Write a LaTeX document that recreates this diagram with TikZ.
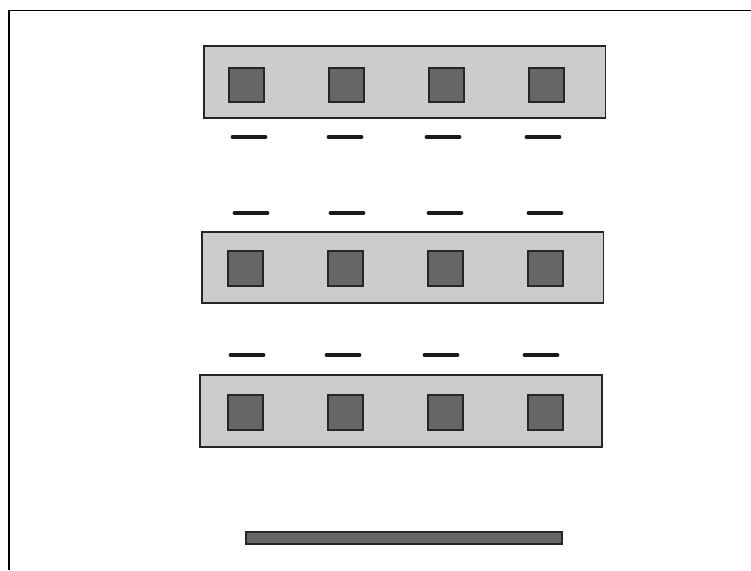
\documentclass[tikz,border=0pt]{standalone}
\begin{document}
\begin{tikzpicture}[x=1pt,y=-1pt,
  panel/.style={draw=black!85,line width=1.2pt,fill=black!20},
  cell/.style={draw=black!85,line width=1.6pt,fill=black!60},
  bar/.style={line width=3.8pt,line cap=round,draw=black!90},
  base/.style={draw=black!85,line width=1.2pt,fill=black!60}]
\useasboundingbox (0,0) rectangle (751,570);
% frame
\draw[line width=1.6pt] (9,10.5) -- (751,10.5);
\draw[line width=2.8pt] (9,570) -- (9,9.7);
% panels
\path[panel] (204,46) rectangle (605.5,118);
\path[panel] (202,232) rectangle (603.5,303);
\path[panel] (200,375) rectangle (602,447);
% cells
\foreach \x in {229,329,429,529}{
  \path[cell] (\x,68) rectangle ++(35,34);
  \path[cell] (\x-1,251) rectangle ++(35,35);
  \path[cell] (\x-1,395) rectangle ++(35,35);
}
% dashes
\foreach \x in {231,327,425,525}{
  \draw[bar] (\x+1.5,137) -- (\x+34.5,137);
}
\foreach \x in {233,329,427,527}{
  \draw[bar] (\x+1.5,213) -- (\x+34.5,213);
}
\foreach \x in {229,325,423,523}{
  \draw[bar] (\x+1.5,355) -- (\x+34.5,355);
}
% base bar
\path[base] (246,532) rectangle (562,544);
\end{tikzpicture}
\end{document}
